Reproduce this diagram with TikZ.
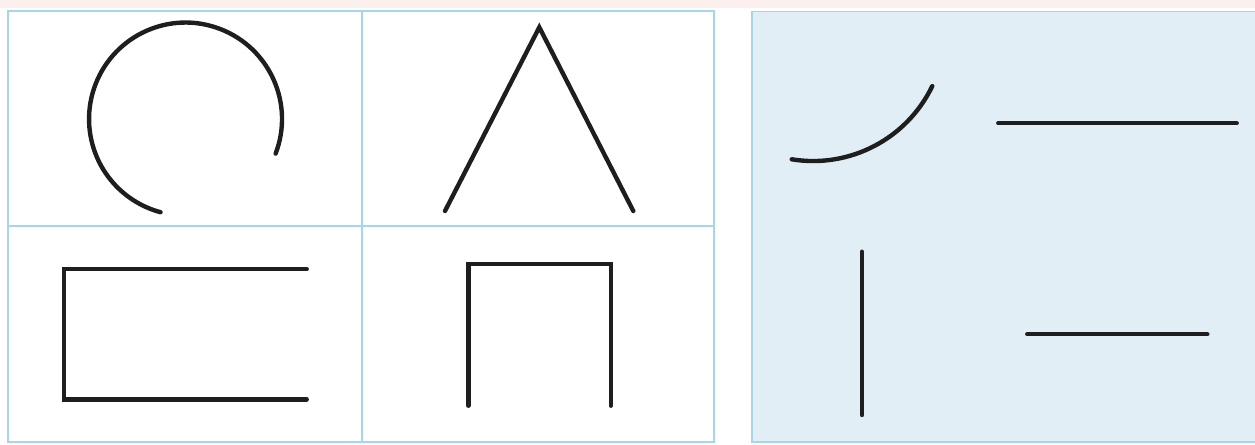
\documentclass[tikz,border=0pt]{standalone}
\usetikzlibrary{calc}
\definecolor{gridblue}{HTML}{A6D6EC}
\definecolor{panelfill}{HTML}{E2EEF5}
\definecolor{inkc}{HTML}{1E1E1E}
\definecolor{pinkstrip}{HTML}{FCF0EE}
\begin{document}
\begin{tikzpicture}[x=0.02cm,y=0.02cm,
  gridline/.style={draw=gridblue,line width=1.1pt},
  shapeline/.style={draw=inkc,line width=2.5pt,line cap=round,line join=miter}]
\useasboundingbox (0,0) rectangle (1255,444);
\fill[white] (0,0) rectangle (1255,444);
\fill[pinkstrip] (0,436) rectangle (1255,444);
% left table
\fill[white] (8.3,2.3) rectangle (714,433.3);
\draw[gridline] (8.3,2.3) rectangle (714,433.3);
\draw[gridline] (362,2.3) -- (362,433.3);
\draw[gridline] (8.3,218.3) -- (714,218.3);
% right panel
\fill[panelfill] (751.7,2.3) rectangle (1262,432.5);
\draw[gridline] (1262,2.3) -- (751.7,2.3) -- (751.7,432.5) -- (1262,432.5);
% open circle
\draw[shapeline] (275.6,290.4) arc[start angle=-21,end angle=255,radius=1.93cm];
% angle
\draw[shapeline] (445,233) -- (539.3,416.7) -- (633.3,233);
% open rectangle
\draw[shapeline] (306.7,174.7) -- (64.3,174.7) -- (64.3,44.7) -- (306.7,44.7);
% open square
\draw[shapeline] (468.3,38.3) -- (468.3,179.7) -- (610.7,179.7) -- (610.7,38.3);
% right panel pieces
\draw[shapeline] (791.7,284.7) arc[start angle=260.7,end angle=334.3,radius=2.646cm];
\draw[shapeline] (998.3,320.7) -- (1236.7,320.7);
\draw[shapeline] (862,192.3) -- (862,29);
\draw[shapeline] (1027.3,109.7) -- (1207.3,109.7);
\end{tikzpicture}
\end{document}
